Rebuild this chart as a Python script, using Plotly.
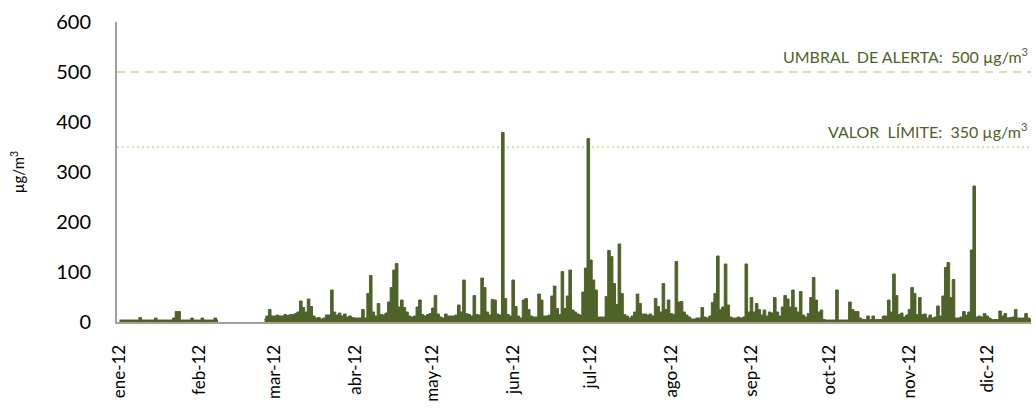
import pandas as pd
import plotly.graph_objects as go

# Daily maximum SO2 values (µg/m³), one list per month (None = no data)
ene = [4,4,4,4,4,4,4,4,9,4,4,4,4,4,8,4,4,4,4,4,4,8,21,21,4,4,4,4,8,4,4]
feb = [4,8,4,4,4,4,8,4] + [None]*17 + [6,12,25,12]
mar = [12,14,12,12,15,13,15,15,17,20,42,29,20,46,31,12,8,9,6,8,14,14,64,20,14,18,12,16,10,12,9]
abr = [8,8,8,25,8,57,93,20,12,37,15,14,18,40,69,104,117,30,44,29,20,12,10,12,30,44,15,12,15,17]
may = [28,53,16,10,8,16,12,12,12,14,34,20,84,17,15,12,53,15,14,88,69,20,14,45,44,16,14,379,47,15,12]
jun = [84,31,12,8,44,47,25,12,10,10,56,44,12,12,14,52,72,27,15,101,27,52,104,24,20,16,14,60,108,367]
jul = [124,84,64,10,10,10,51,143,131,77,35,156,57,15,12,8,12,20,56,37,16,16,14,16,12,47,31,20,77,25,44]
ago = [17,15,121,40,41,20,14,10,6,6,8,8,29,10,8,12,39,57,132,25,30,116,34,10,8,8,10,8,10,116,20]
sep = [49,20,37,25,14,24,12,20,18,49,20,12,30,53,46,30,64,29,20,61,14,10,17,49,89,44,20,24,5,4]
oct_ = [4,4,4,64,4,4,4,4,40,25,21,21,8,5,5,12,5,12,5,5,5,12,12,44,20,96,53,15,18,10,14]
nov = [25,69,57,15,49,15,16,8,14,8,10,32,12,52,109,119,49,85,8,8,10,21,14,20,144,272,10,12,10,17]
dic = [12,8,5,5,5,22,12,17,8,9,10,25,8,8,8,17,8,5]

meses = [ene, feb, mar, abr, may, jun, jul, ago, sep, oct_, nov, dic]
inicio_mes = ["2012-%02d-01" % m for m in range(1, 13)]
etiquetas_x = ["ene-12", "feb-12", "mar-12", "abr-12", "may-12", "jun-12",
               "jul-12", "ago-12", "sep-12", "oct-12", "nov-12", "dic-12"]

UMBRAL_ALERTA = 500
VALOR_LIMITE = 350

fechas, valores = [], []
for inicio, vals in zip(inicio_mes, meses):
    fechas += list(pd.date_range(inicio, periods=len(vals), freq="D"))
    valores += vals

# split into continuous segments (the station has a data gap in February)
segmentos, actual = [], ([], [])
for f, v in zip(fechas, valores):
    if v is None:
        if actual[0]:
            segmentos.append(actual)
        actual = ([], [])
    else:
        actual[0].append(f)
        actual[1].append(v)
if actual[0]:
    segmentos.append(actual)

OLIVA = "#4f6228"
VERDE_CLARO = "#c3d69b"
FONT = "Lato"
NB = "\u00a0"

fig = go.Figure()
for xs, ys in segmentos:
    fig.add_trace(go.Scatter(
        x=xs, y=ys, mode="lines",
        line=dict(color=OLIVA, width=1, shape="hvh"),
        fill="tozeroy", fillcolor=OLIVA,
        hoverinfo="x+y", showlegend=False,
    ))

fig.add_shape(type="line", xref="paper", x0=0, x1=1, yref="y",
              y0=UMBRAL_ALERTA, y1=UMBRAL_ALERTA, layer="below",
              line=dict(color=VERDE_CLARO, width=1.5, dash="8px,6px"))
fig.add_shape(type="line", xref="paper", x0=0, x1=1, yref="y",
              y0=VALOR_LIMITE, y1=VALOR_LIMITE, layer="below",
              line=dict(color=VERDE_CLARO, width=1.5, dash="2px,3px"))

fig.add_annotation(xref="paper", x=1, xanchor="right", xshift=-1,
                   yref="y", y=UMBRAL_ALERTA, yanchor="bottom", yshift=4,
                   text=f"UMBRAL{NB} DE ALERTA:{NB} {UMBRAL_ALERTA} µg/m<sup>3</sup>",
                   showarrow=False,
                   font=dict(family=FONT, size=16, color=OLIVA))
fig.add_annotation(xref="paper", x=1, xanchor="right", xshift=-1,
                   yref="y", y=VALOR_LIMITE, yanchor="bottom", yshift=4,
                   text=f"VALOR{NB} LÍMITE:{NB} {VALOR_LIMITE} µg/m<sup>3</sup>",
                   showarrow=False,
                   font=dict(family=FONT, size=16, color=OLIVA))

fig.update_layout(
    width=1035, height=414,
    margin=dict(l=117, r=4, t=22, b=92, autoexpand=False),
    paper_bgcolor="white", plot_bgcolor="white",
    font=dict(family=FONT, color="#000000"),
    xaxis=dict(
        type="date", automargin=False,
        range=["2011-12-31 01:00", "2012-12-17 22:00"],
        tickvals=inicio_mes, ticktext=etiquetas_x, tickangle=-90,
        tickfont=dict(family=FONT, size=17, color="#000000"),
        showgrid=False, zeroline=False,
        showline=True, linecolor="#a0a0a0", linewidth=2,
        ticks="", ticklabelstandoff=14,
    ),
    yaxis=dict(
        range=[0, 600], tickvals=[0, 100, 200, 300, 400, 500, 600],
        automargin=False,
        tickfont=dict(family=FONT, size=20, color="#000000"),
        showgrid=False, zeroline=False,
        showline=True, linecolor="#a0a0a0", linewidth=2,
        ticks="", ticklabelstandoff=20,
        title=dict(text="µg/m<sup>3</sup>", standoff=28,
                   font=dict(family=FONT, size=15, color="#000000")),
    ),
)

fig.write_html("out.html", config={"displayModeBar": False},
               post_script="document.body.style.margin='0';")
